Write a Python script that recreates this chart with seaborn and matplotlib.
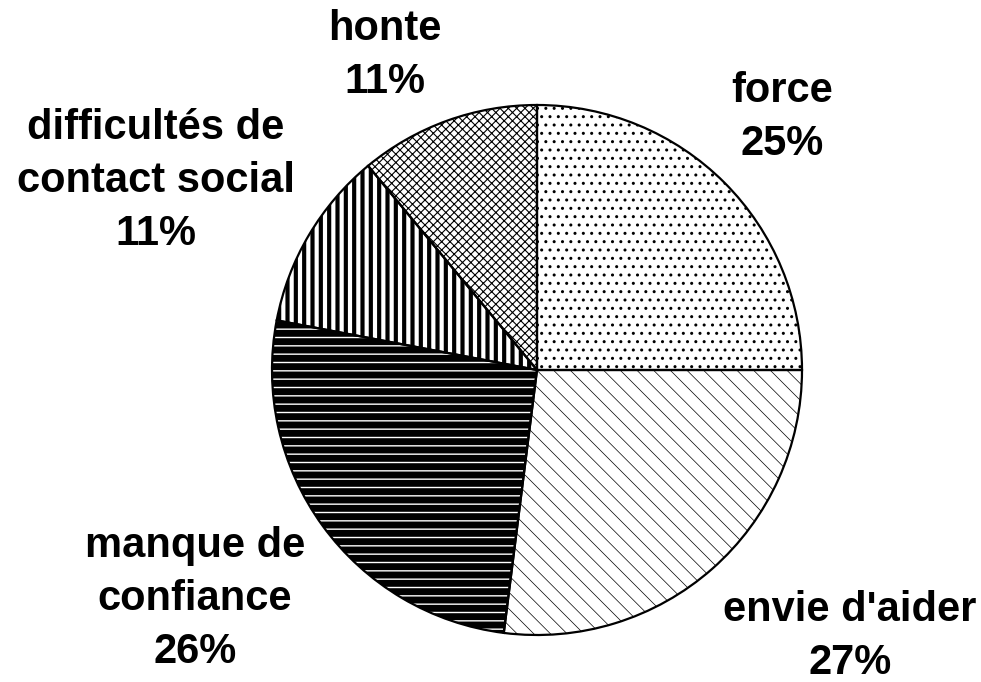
import matplotlib
matplotlib.use('Agg')
import matplotlib.pyplot as plt
import seaborn as sns
import pandas as pd

# ---- data ----
categories = ['force', "envie d'aider", 'manque de confiance',
              'difficultés de contact social', 'honte']
values = [25, 27, 26, 11, 11]
label_lines = [['force'], ["envie d'aider"], ['manque de', 'confiance'],
               ['difficultés de', 'contact social'], ['honte']]

sns.set_theme(style='white')
plt.rcParams['font.family'] = ['Liberation Sans', 'DejaVu Sans']

W, H = 981, 682
fig = plt.figure(figsize=(W / 100, H / 100), dpi=100)
fig.patch.set_facecolor('white')
cx, cy, r = 537, 370, 265
ax = fig.add_axes([(cx - r) / W, (H - cy - r) / H, 2 * r / W, 2 * r / H])

df = pd.DataFrame({'category': categories, 'value': values})

styles = [
    dict(fc='white', hc='black', hatch='..', hlw=1.0),
    dict(fc='white', hc='black', hatch='\\\\', hlw=0.5),
    dict(fc='black', hc='white', hatch='--', hlw=1.0),
    dict(fc='white', hc='black', hatch='||', hlw=3.0),
    dict(fc='white', hc='black', hatch='xxxx', hlw=0.8),
]

wedges, _ = ax.pie(df['value'], startangle=90, counterclock=False, radius=1)
for w, s in zip(wedges, styles):
    w.set_facecolor(s['fc'])
    w.set_edgecolor(s['hc'])
    w.set_hatch(s['hatch'])
    w.set_linewidth(0)
    w.set_clip_on(False)
    if hasattr(w, 'set_hatch_linewidth'):
        w.set_hatch_linewidth(s['hlw'])

outline, _ = ax.pie(df['value'], startangle=90, counterclock=False, radius=1,
                    wedgeprops=dict(fill=False, edgecolor='black', linewidth=1.6))
for w in outline:
    w.set_clip_on(False)

ax.set_xlim(-1, 1)
ax.set_ylim(-1, 1)
ax.set_aspect('equal')
ax.axis('off')

# ---- labels ----
label_pos = [(782, 102), (850, 621), (195, 557), (156, 139), (385, 40)]
step = 53
for lines, v, (x, y0) in zip(label_lines, df['value'], label_pos):
    for i, t in enumerate(lines + [f"{v}%"]):
        fig.text(x / W, 1 - (y0 + i * step) / H, t, ha='center', va='baseline',
                 fontsize=30, fontweight='bold', color='black')

fig.savefig('out.png', dpi=100, facecolor='white')
